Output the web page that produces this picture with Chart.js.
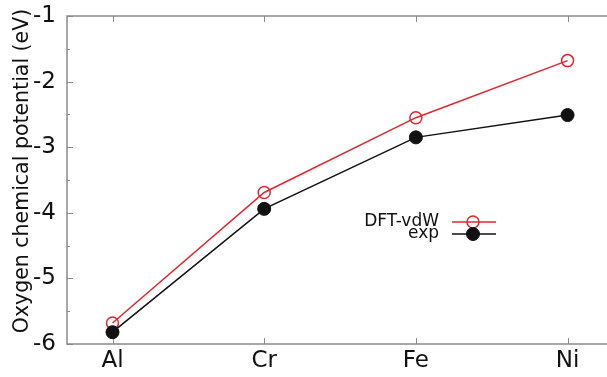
<!DOCTYPE html>
<html>
<head>
<meta charset="utf-8">
<script src="https://cdn.jsdelivr.net/npm/chart.js@4.4.1/dist/chart.umd.min.js"></script>
<style>
  html, body { margin: 0; padding: 0; background: #fff; overflow: hidden; }
</style>
</head>
<body>
<canvas id="grafico1" width="607" height="377"></canvas>
<script>
const metales = ['Al', 'Cr', 'Fe', 'Ni'];
const posiciones = [1, 2, 3, 4];
const dftVdw = [-5.68, -3.69, -2.55, -1.68];
const experimental = [-5.82, -3.94, -2.85, -2.51];
const ticksY = [-6, -5, -4, -3, -2, -1];
const ticksMenoresY = [-5.5, -4.5, -3.5, -2.5, -1.5];
const tituloY = 'Oxygen chemical potential (eV)';

const ROJO = '#e2262f';
const NEGRO = '#111111';
const GRIS = '#8a8a8a';
const fuente = 'DejaVu Sans';

document.addEventListener("DOMContentLoaded", () => {
  const lienzo = document.querySelector("#grafico1");

  // marco y ticks hacia dentro, al estilo gnuplot (el borde derecho queda fuera del recorte)
  const marco = {
    id: 'marco',
    beforeDatasetsDraw(chart) {
      const { ctx, chartArea: a, scales: { x, y } } = chart;
      ctx.save();
      ctx.strokeStyle = GRIS;
      ctx.lineWidth = 1.5;
      ctx.beginPath();
      ctx.moveTo(a.right, a.top);
      ctx.lineTo(a.left, a.top);
      ctx.lineTo(a.left, a.bottom);
      ctx.lineTo(a.right, a.bottom);
      ctx.stroke();
      ctx.lineWidth = 1;
      ctx.beginPath();
      const marcarY = (v, largo) => {
        const py = Math.round(y.getPixelForValue(v)) + 0.5;
        ctx.moveTo(a.left, py); ctx.lineTo(a.left + largo, py);
      };
      ticksY.forEach(v => marcarY(v, 6));
      ticksMenoresY.forEach(v => marcarY(v, 3));
      posiciones.forEach(p => {
        const px = Math.round(x.getPixelForValue(p)) + 0.5;
        ctx.moveTo(px, a.bottom); ctx.lineTo(px, a.bottom - 6);
        ctx.moveTo(px, a.top); ctx.lineTo(px, a.top + 6);
      });
      ctx.stroke();

      // titulo del eje y
      ctx.translate(23, 171);
      ctx.rotate(-Math.PI / 2);
      ctx.font = `20.5px "${fuente}"`;
      ctx.fillStyle = NEGRO;
      ctx.textAlign = 'center';
      ctx.textBaseline = 'middle';
      ctx.fillText(tituloY, 0, 0);
      ctx.restore();
    },
    afterDraw(chart) {
      const { ctx } = chart;
      const filas = [
        { ds: chart.data.datasets[1], y: 222 },
        { ds: chart.data.datasets[0], y: 234 }
      ];
      ctx.save();
      ctx.font = `17px "${fuente}"`;
      ctx.textAlign = 'right';
      ctx.textBaseline = 'middle';
      filas.forEach(f => {
        ctx.fillStyle = NEGRO;
        ctx.fillText(f.ds.label, 439, f.y);
        ctx.strokeStyle = f.ds.borderColor;
        ctx.lineWidth = 1.5;
        ctx.beginPath();
        ctx.moveTo(452, f.y); ctx.lineTo(496, f.y);
        ctx.stroke();
        ctx.beginPath();
        ctx.arc(473, f.y, f.ds.pointRadius, 0, Math.PI * 2);
        if (f.ds.pointBackgroundColor !== 'transparent') {
          ctx.fillStyle = f.ds.pointBackgroundColor;
          ctx.fill();
        }
        ctx.lineWidth = f.ds.pointBorderWidth;
        ctx.strokeStyle = f.ds.pointBorderColor;
        ctx.stroke();
      });
      ctx.restore();
    }
  };

  const puntos = (serie) => serie.map((v, i) => ({ x: posiciones[i], y: v }));

  new Chart(lienzo, {
    type: 'line',
    data: {
      datasets: [
        {
          label: 'exp',
          data: puntos(experimental),
          borderColor: NEGRO,
          borderWidth: 1.5,
          pointRadius: 6.5,
          pointBackgroundColor: NEGRO,
          pointBorderColor: NEGRO,
          pointBorderWidth: 1,
          order: 0
        },
        {
          label: 'DFT-vdW',
          data: puntos(dftVdw),
          borderColor: ROJO,
          borderWidth: 1.5,
          pointRadius: 6,
          pointBackgroundColor: 'transparent',
          pointBorderColor: ROJO,
          pointBorderWidth: 1.5,
          order: 1
        }
      ]
    },
    options: {
      responsive: false,
      animation: false,
      layout: { autoPadding: false, padding: { top: 16, right: 0, bottom: 0, left: 0 } },
      plugins: { legend: { display: false }, tooltip: { enabled: false } },
      scales: {
        x: {
          type: 'linear',
          min: 0.7,
          max: 4.26,
          grid: { display: false, drawTicks: false },
          border: { display: false },
          afterBuildTicks: s => { s.ticks = posiciones.map(v => ({ value: v })); },
          afterFit: s => { s.height = 33; s.paddingLeft = 0; s.paddingRight = 0; },
          ticks: {
            padding: 3,
            color: NEGRO,
            font: { family: fuente, size: 23 },
            callback: v => metales[v - 1]
          }
        },
        y: {
          min: -6,
          max: -1,
          grid: { display: false, drawTicks: false },
          border: { display: false },
          afterBuildTicks: s => { s.ticks = ticksY.map(v => ({ value: v })); },
          afterFit: s => { s.width = 67; s.paddingTop = 0; s.paddingBottom = 0; },
          ticks: {
            padding: 11,
            color: NEGRO,
            font: { family: fuente, size: 23 },
            callback: v => v
          }
        }
      }
    },
    plugins: [marco]
  });
});
</script>
</body>
</html>
